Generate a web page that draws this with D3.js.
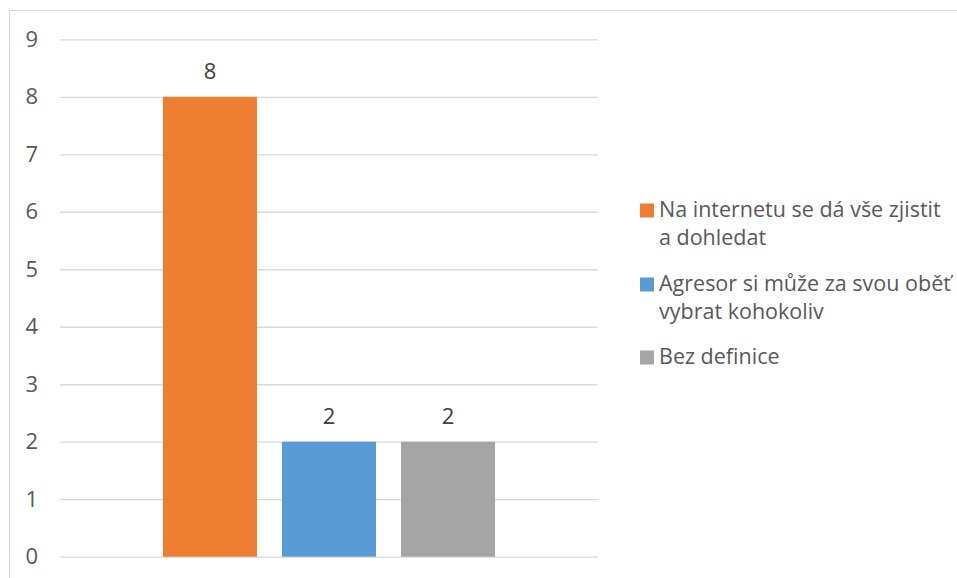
<!DOCTYPE html>
<html><head><meta charset="utf-8">
<script src="https://cdn.jsdelivr.net/npm/d3@7"></script>
<style>body{margin:0;background:#fff}svg{display:block}text{font-variant-ligatures:none}</style>
</head><body>
<script>
const categories = ["Na internetu se dá vše zjistit a dohledat", "Agresor si může za svou oběť vybrat kohokoliv", "Bez definice"];
const values = [8, 2, 2];
const colors = ["#ED7D31", "#5B9BD5", "#A5A5A5"];
const legendLines = [["Na internetu se dá vše zjistit", "a dohledat"], ["Agresor si může za svou oběť", "vybrat kohokoliv"], ["Bez definice"]];
const yTicks = [0,1,2,3,4,5,6,7,8,9];

(function () {
const W = 957, H = 578;
const font = "'Open Sans', sans-serif";
const svg = d3.select("body").append("svg").attr("width", W).attr("height", H);
svg.append("rect").attr("x", 9.5).attr("y", 10.5).attr("width", 960).attr("height", 600)
  .attr("fill", "#fff").attr("stroke", "#D9D9D9").attr("stroke-width", 1);

const pL = 60, pR = 598, pT = 39.3, pB = 556.7;
const y = d3.scaleLinear().domain([0, 9]).range([pB, pT]);
const x = d3.scaleBand().domain(categories).range([pL, pR]).paddingInner(0.21).paddingOuter(0.865);

const yAxis = d3.axisLeft(y).tickValues(yTicks).tickSize(-(pR - pL)).tickPadding(22);
const gy = svg.append("g").attr("transform", `translate(${pL},0)`).call(yAxis);
gy.select(".domain").remove();
gy.selectAll(".tick line").attr("stroke", "#D9D9D9").attr("stroke-width", 1.3);
gy.selectAll(".tick text").attr("fill", "#595959").style("font-family", font).style("font-size", "22px");

svg.selectAll("rect.bar").data(categories).join("rect").attr("class", "bar")
  .attr("x", d => x(d)).attr("width", x.bandwidth())
  .attr("y", (d, i) => y(values[i])).attr("height", (d, i) => y(0) - y(values[i]))
  .attr("fill", (d, i) => colors[i]);

svg.selectAll("text.lab").data(categories).join("text").attr("class", "lab")
  .attr("x", d => x(d) + x.bandwidth() / 2)
  .attr("y", (d, i) => y(values[i]) - 17.5)
  .attr("text-anchor", "middle").attr("fill", "#404040")
  .style("font-family", font).style("font-size", "22px")
  .text((d, i) => values[i]);

const baselines = [217, 291, 364];
const lg = svg.append("g");
legendLines.forEach((lines, i) => {
  lg.append("rect").attr("x", 640).attr("y", baselines[i] - 13.5).attr("width", 14).attr("height", 14).attr("fill", colors[i]);
  const t = lg.append("text").attr("fill", "#595959").style("font-family", font).style("font-size", "21.5px");
  lines.forEach((l, j) => t.append("tspan").attr("x", 659).attr("y", baselines[i] + j * 27.5).text(l));
});
})();
</script>
</body></html>
